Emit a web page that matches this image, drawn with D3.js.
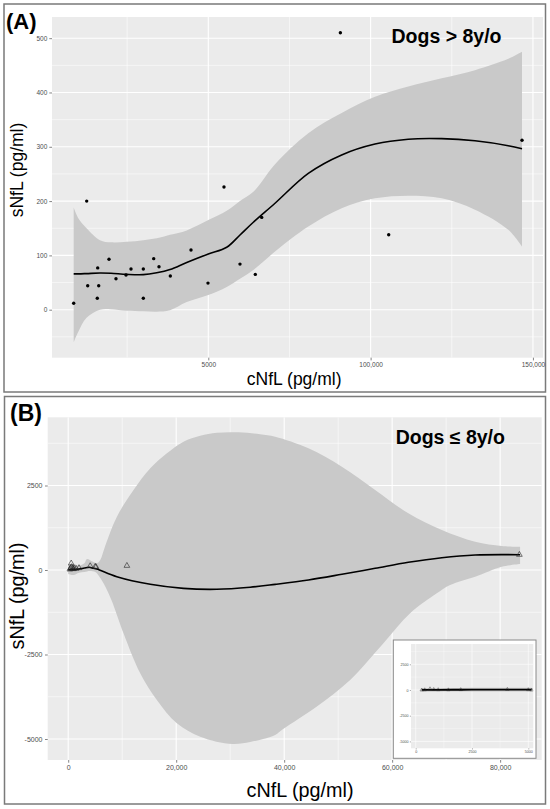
<!DOCTYPE html>
<html><head><meta charset="utf-8">
<script src="https://cdn.jsdelivr.net/npm/d3@7"></script>
<style>html,body{margin:0;padding:0;background:#fff;}svg{display:block;font-family:"Liberation Sans",Arial,Helvetica,sans-serif;}</style>
</head><body>
<svg id="c" width="550" height="809"></svg>
<script>
// ---------- Panel A data (Dogs > 8y/o) ----------
const aX = [8530,12540,12850,15930,16240,15800,19410,21560,24650,26190,29980,29980,33180,34810,38300,44670,49900,54830,59760,64480,66450,90680,105570,146640];
const aY = [12,200,44,77,44,21,93,57,64,75,75,21,94,79,62,110,49,226,84,65,170,510,138,312];
const aFitX  = [8530,10000,12500,16640,20000,24860,29980,34100,38200,43350,50000,55670,59760,63870,70550,80800,91080,101350,111600,121900,132150,142400,146640];
const aFitY  = [66,66,66.5,67.5,67,65,64.5,68,74,87,102.6,115,137.6,161,196,251,285,305,314,315,311,302,296.5];
const aFitHi = [188,168,150,128,124,125,128,131.5,138,146,165,182,200,217,268,325,362,392,411,426,441,462,475];
const aFitLo = [-60,-40,-15,0,1,-2,-3,-3.6,-1,14,27,42,57,73,107,153,187,205,210,205,184,147,116];
const aXTicks = [50000,100000,150000];
const aXTickLabels = ["5000","100,000","150,000"];
const aYTicks = [0,100,200,300,400,500];

// ---------- Panel B data (Dogs <= 8y/o) ----------
const bX = [300,450,556,640,800,950,1100,1450,2000,4070,5000,5150,10870,83570];
const bY = [20,60,198,90,40,30,50,40,60,118,100,90,127,453];
const bFitX  = [0,500,1000,2000,3000,3900,4690,5300,9000,15200,21350,27500,33700,38330,44500,50700,56850,63000,69200,75370,83700];
const bFitY  = [0,10,20,30,60,80,50,30,-198,-423,-544,-571,-510,-425,-296,-127,50,228,364,444,453];
const bHiX = [0,1000,2000,3000,3460,4500,5300,5930,6800,9020,12100,15200,18280,21350,24440,27530,31550,35550,38330,44500,50680,56850,63000,69200,75370,80300,83700];
const bHi  = [150,178,130,200,325,250,200,296,690,1577,2367,3009,3453,3796,3974,4062,4074,4015,3944,3600,3056,2367,1677,1183,837,710,690];
const bLoX = [0,1000,2000,3000,4000,5000,5300,6540,8000,10240,13330,16420,20120,24440,30370,33700,36110,38330,39810,45930,52220,58390,63330,68270,70740,75370,80300,83700];
const bLo  = [-120,-150,-80,-60,-30,-60,-98,-394,-888,-1873,-3057,-3846,-4536,-4931,-5148,-5089,-5000,-4882,-4704,-4053,-3254,-2169,-1281,-690,-444,-198,98,178];
const bXTicks = [0,20000,40000,60000,80000];
const bXTickLabels = ["0","20,000","40,000","60,000","80,000"];
const bYTicks = [-5000,-2500,0,2500];

// ---------- Inset data ----------
const iX = [266,400,635,800,1000,1450,2000,4070,5000,5150];
const iY = [0,20,120,50,30,20,40,60,30,0];
const iFitX = [266,1000,2000,3000,4000,5150];
const iFitY = [10,20,25,30,35,30];
const iXTicks = [0,2500,5000];
const iYTicks = [-5000,-2500,0,2500];

const svg = d3.select("#c");
const BG = "#ebebeb", BAND = "#c9c9c9";

function panel(o){
  const g = svg.append("g");
  const x = d3.scaleLinear().domain(o.xDom).range([o.l,o.r]);
  const y = d3.scaleLinear().domain(o.yDom).range([o.b,o.t]);
  g.append("rect").attr("x",o.l).attr("y",o.t).attr("width",o.r-o.l).attr("height",o.b-o.t).attr("fill",BG);
  const clip = "clip"+o.id;
  svg.append("clipPath").attr("id",clip).append("rect").attr("x",o.l).attr("y",o.t).attr("width",o.r-o.l).attr("height",o.b-o.t);
  const gc = g.append("g").attr("clip-path","url(#"+clip+")");
  gc.selectAll(".xm").data(o.xMinor).join("line").attr("x1",d=>x(d)).attr("x2",d=>x(d)).attr("y1",o.t).attr("y2",o.b).attr("stroke","#fff").attr("stroke-width",o.mw);
  gc.selectAll(".ym").data(o.yMinor).join("line").attr("y1",d=>y(d)).attr("y2",d=>y(d)).attr("x1",o.l).attr("x2",o.r).attr("stroke","#fff").attr("stroke-width",o.mw);
  gc.selectAll(".xM").data(o.xTicks).join("line").attr("x1",d=>x(d)).attr("x2",d=>x(d)).attr("y1",o.t).attr("y2",o.b).attr("stroke","#fff").attr("stroke-width",o.Mw);
  gc.selectAll(".yM").data(o.yTicks).join("line").attr("y1",d=>y(d)).attr("y2",d=>y(d)).attr("x1",o.l).attr("x2",o.r).attr("stroke","#fff").attr("stroke-width",o.Mw);
  // band
  const curve = d3.curveCatmullRom.alpha(0.5);
  const hiPts = o.hiX.map((v,i)=>[x(v),y(o.hi[i])]);
  const loPts = o.loX.map((v,i)=>[x(v),y(o.lo[i])]);
  const lineGen = d3.line().curve(curve);
  const upperPath = lineGen(hiPts);
  const lowerPath = lineGen(loPts.slice().reverse());
  gc.append("path").attr("d", upperPath + "L" + lowerPath.slice(1) + "Z").attr("fill",BAND);
  // fit line
  gc.append("path").attr("d", d3.line().x(d=>x(d[0])).y(d=>y(d[1])).curve(curve)(o.fitX.map((v,i)=>[v,o.fitY[i]])))
    .attr("fill","none").attr("stroke","#000").attr("stroke-width",o.lw);
  // points
  if(o.shape==="circle"){
    gc.selectAll(".pt").data(o.px.map((v,i)=>[v,o.py[i]])).join("circle")
      .attr("cx",d=>x(d[0])).attr("cy",d=>y(d[1])).attr("r",o.pr).attr("fill","#000");
  } else {
    const tri = d3.symbol().type(d3.symbolTriangle).size(o.ps);
    gc.selectAll(".pt").data(o.px.map((v,i)=>[v,o.py[i]])).join("path")
      .attr("d",tri).attr("transform",d=>`translate(${x(d[0])},${y(d[1])})`)
      .attr("fill","none").attr("stroke","#222").attr("stroke-width",o.pw);
  }
  // axes
  const ax = d3.axisBottom(x).tickValues(o.xTicks).tickFormat((d,i)=>o.xLabels[i]).tickSize(o.tk).tickPadding(o.tp);
  const axg = g.append("g").attr("transform",`translate(0,${o.b})`).call(ax);
  const ay = d3.axisLeft(y).tickValues(o.yTicks).tickFormat(d=>String(d)).tickSize(o.tk).tickPadding(o.tp);
  const ayg = g.append("g").attr("transform",`translate(${o.l},0)`).call(ay);
  [axg,ayg].forEach(a=>{
    a.select(".domain").remove();
    a.selectAll(".tick line").attr("stroke","#333").attr("stroke-width",o.tw);
    a.selectAll(".tick text").attr("fill","#4d4d4d").attr("font-size",o.fs).attr("font-family","Liberation Sans, Arial, sans-serif");
  });
  return {x,y,g};
}

// Panel borders
svg.append("rect").attr("x",4).attr("y",4).attr("width",541.5).attr("height",388).attr("fill","none").attr("stroke","#7a7a7a").attr("stroke-width",1.5);
svg.append("rect").attr("x",4.5).attr("y",396.5).attr("width",541).attr("height",407.5).attr("fill","none").attr("stroke","#7a7a7a").attr("stroke-width",1.5);

// Panel A
panel({id:"A", l:52, r:543, t:17, b:357.7, xDom:[1850,153100], yDom:[-88.4,539],
  xTicks:aXTicks, xLabels:aXTickLabels, yTicks:aYTicks,
  xMinor:[25000,75000,125000], yMinor:[-50,50,150,250,350,450],
  hiX:aFitX, hi:aFitHi, loX:aFitX, lo:aFitLo, fitX:aFitX, fitY:aFitY,
  px:aX, py:aY, shape:"circle", pr:1.7, lw:1.6, Mw:1.1, mw:0.55, tk:2.7, tp:2, tw:0.6, fs:6.5});

// Panel B
panel({id:"B", l:47.7, r:541.7, t:417.3, b:760, xDom:[-3800,87700], yDom:[-5621,4518],
  xTicks:bXTicks, xLabels:bXTickLabels, yTicks:bYTicks,
  xMinor:[10000,30000,50000,70000], yMinor:[-3750,-1250,1250,3750],
  hiX:bHiX, hi:bHi, loX:bLoX, lo:bLo, fitX:bFitX, fitY:bFitY,
  px:bX, py:bY, shape:"tri", ps:14, pw:0.6, lw:1.6, Mw:1.1, mw:0.55, tk:2.7, tp:2.5, tw:0.6, fs:7});

// Inset
svg.append("rect").attr("x",393.3).attr("y",640).attr("width",142.7).attr("height",118.3).attr("fill","#fff").attr("stroke","#8a8a8a").attr("stroke-width",1);
panel({id:"I", l:411, r:533.3, t:644, b:748.3, xDom:[-209,5222], yDom:[-5671,4475],
  xTicks:iXTicks, xLabels:iXTicks.map(String), yTicks:iYTicks,
  xMinor:[1250,3750], yMinor:[-3750,-1250,1250,3750],
  hiX:iFitX, hi:iFitY.map(v=>v+180), loX:iFitX, lo:iFitY.map(v=>v-180), fitX:iFitX, fitY:iFitY,
  px:iX, py:iY, shape:"tri", ps:5, pw:0.4, lw:1.8, Mw:0.6, mw:0.3, tk:1.2, tp:1.2, tw:0.4, fs:3.6});

// Texts
svg.append("text").attr("x",6).attr("y",29).attr("font-size",22).attr("font-weight","bold").text("(A)");
svg.append("text").attr("x",10).attr("y",421).attr("font-size",23).attr("font-weight","bold").text("(B)");
svg.append("text").attr("x",446.5).attr("y",43.3).attr("text-anchor","middle").attr("font-size",19.5).attr("font-weight","bold").text("Dogs > 8y/o");
svg.append("text").attr("x",450.3).attr("y",444).attr("text-anchor","middle").attr("font-size",19.5).attr("font-weight","bold").text("Dogs ≤ 8y/o");
svg.append("text").attr("x",294.2).attr("y",384.5).attr("text-anchor","middle").attr("font-size",17.5).text("cNfL (pg/ml)");
svg.append("text").attr("x",300).attr("y",796.5).attr("text-anchor","middle").attr("font-size",19.8).text("cNfL (pg/ml)");
svg.append("text").attr("transform","translate(22.5,170) rotate(-90)").attr("text-anchor","middle").attr("font-size",17.5).text("sNfL (pg/ml)");
svg.append("text").attr("transform","translate(24,596) rotate(-90)").attr("text-anchor","middle").attr("font-size",19.8).text("sNfL (pg/ml)");
</script>
</body></html>
